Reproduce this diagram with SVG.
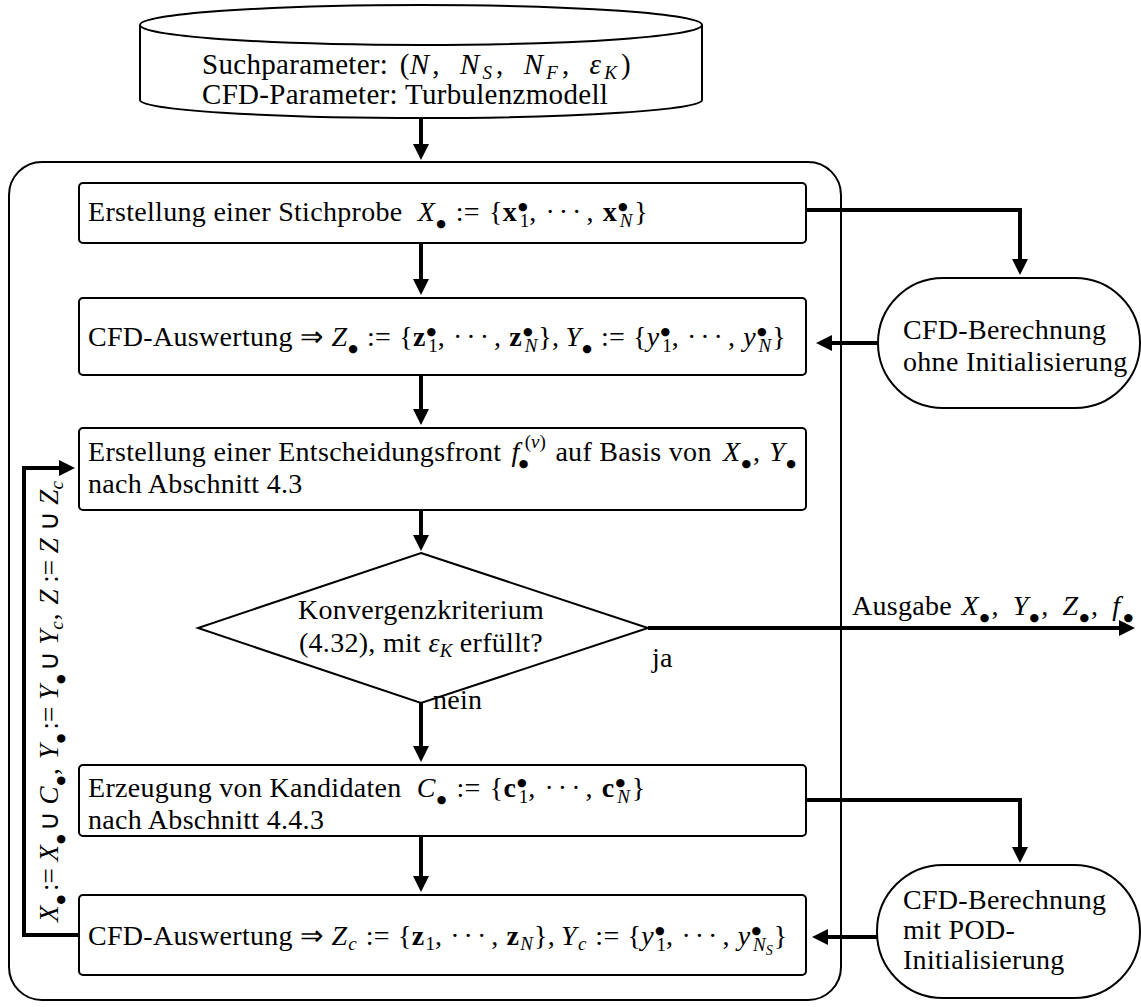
<svg xmlns="http://www.w3.org/2000/svg" width="1141" height="1007" viewBox="0 0 1141 1007">
<style>
text{font-family:"Liberation Serif","Times New Roman",serif;font-size:28px;letter-spacing:0.3px;fill:#000}
.i{font-style:italic}
.b{font-weight:bold}
.s{font-size:19px;letter-spacing:0}
.bl{font-family:"DejaVu Sans",sans-serif;font-size:11px;letter-spacing:0}
.dots{letter-spacing:4px}
.cyl{font-size:29px}
.rot{font-size:27px;letter-spacing:0}
.box{fill:#fff;stroke:#000;stroke-width:2}
.con{fill:none;stroke:#000;stroke-width:4;marker-end:url(#ah)}
</style>
<defs>
<marker id="ah" markerUnits="userSpaceOnUse" markerWidth="18" markerHeight="18" refX="6" refY="8" orient="auto">
<path d="M0,0 L16,8 L0,16 z" fill="#000"/>
</marker>
</defs>
<rect id="frame" x="9" y="162" width="832" height="838" rx="33" fill="none" stroke="#000" stroke-width="2"/>
<g id="input">
<path d="M140,25 V100 A281,18 0 0 0 702,100 V25" class="box"/>
<ellipse cx="421" cy="25" rx="281" ry="20" class="box"/>
<text x="202" y="74" class="cyl">Suchparameter: <tspan dx="4">(</tspan><tspan class="i">N</tspan><tspan dx="3">,</tspan><tspan dx="20" class="i">N</tspan><tspan class="s i" dx="3" dy="5">S</tspan><tspan dx="4" dy="-5">,</tspan><tspan dx="20" class="i">N</tspan><tspan class="s i" dx="3" dy="5">F</tspan><tspan dx="4" dy="-5">,</tspan><tspan dx="20" class="i">ε</tspan><tspan class="s i" dx="3" dy="5">K</tspan><tspan dx="4" dy="-5">)</tspan></text>
<text x="202" y="104" class="cyl">CFD-Parameter: Turbulenzmodell</text>
</g>
<g id="box1">
<rect x="79" y="183" width="727" height="60" rx="4" class="box"/>
<text x="88" y="221">Erstellung einer Stichprobe <tspan dx="8" class="i">X</tspan><tspan class="bl" dx="1" dy="6">●</tspan><tspan dx="10" dy="-6">:=</tspan><tspan dx="9">{</tspan><tspan class="b">x</tspan><tspan class="bl" dx="1" dy="-11">●</tspan><tspan class="s" dx="-8" dy="17">1</tspan><tspan dy="-6">,</tspan><tspan dx="9" class="dots">···</tspan><tspan dx="1">,</tspan><tspan dx="9" class="b">x</tspan><tspan class="bl" dx="1" dy="-11">●</tspan><tspan class="s i" dx="-8" dy="17">N</tspan><tspan dx="2" dy="-6">}</tspan></text>
</g>
<g id="box2">
<rect x="79" y="298" width="727" height="77" rx="4" class="box"/>
<text x="88" y="346">CFD-Auswertung ⇒<tspan dx="8" class="i">Z</tspan><tspan class="bl" dx="1" dy="6">●</tspan><tspan dx="9" dy="-6">:=</tspan><tspan dx="8">{</tspan><tspan class="b">z</tspan><tspan class="bl" dx="1" dy="-11">●</tspan><tspan class="s" dx="-8" dy="17">1</tspan><tspan dy="-6">,</tspan><tspan dx="8" class="dots">···</tspan><tspan dx="1">,</tspan><tspan dx="8" class="b">z</tspan><tspan class="bl" dx="1" dy="-11">●</tspan><tspan class="s i" dx="-8" dy="17">N</tspan><tspan dx="1" dy="-6">},</tspan><tspan dx="6" class="i">Y</tspan><tspan class="bl" dx="1" dy="6">●</tspan><tspan dx="9" dy="-6">:=</tspan><tspan dx="8">{</tspan><tspan class="i">y</tspan><tspan class="bl" dx="1" dy="-11">●</tspan><tspan class="s" dx="-8" dy="17">1</tspan><tspan dy="-6">,</tspan><tspan dx="8" class="dots">···</tspan><tspan dx="1">,</tspan><tspan dx="8" class="i">y</tspan><tspan class="bl" dx="1" dy="-11">●</tspan><tspan class="s i" dx="-8" dy="17">N</tspan><tspan dx="1" dy="-6">}</tspan></text>
</g>
<g id="box3">
<rect x="79" y="428" width="727" height="82" rx="4" class="box"/>
<text x="88" y="461">Erstellung einer Entscheidungsfront <tspan dx="3" class="i">f</tspan><tspan class="s" dx="5" dy="-13">(</tspan><tspan class="s i">ν</tspan><tspan class="s">)</tspan><tspan class="bl" dx="-27" dy="19">●</tspan><tspan dx="27" dy="-6">auf Basis von </tspan><tspan dx="4" class="i">X</tspan><tspan class="bl" dx="1" dy="6">●</tspan><tspan dx="2" dy="-6">,</tspan><tspan dx="9" class="i">Y</tspan><tspan class="bl" dx="1" dy="6">●</tspan></text>
<text x="88" y="493">nach Abschnitt 4.3</text>
</g>
<g id="decision">
<polygon points="421,553 648,628 421,703 198,628" class="box"/>
<text x="421" y="619" text-anchor="middle">Konvergenzkriterium</text>
<text x="421" y="652" text-anchor="middle">(4.32), mit <tspan class="i">ε</tspan><tspan class="s i" dy="5">K</tspan><tspan dy="-5"> erfüllt?</tspan></text>
</g>
<g id="box4">
<rect x="79" y="765" width="727" height="71" rx="4" class="box"/>
<text x="88" y="797">Erzeugung von Kandidaten <tspan dx="8" class="i">C</tspan><tspan class="bl" dx="1" dy="6">●</tspan><tspan dx="10" dy="-6">:=</tspan><tspan dx="9">{</tspan><tspan class="b">c</tspan><tspan class="bl" dx="1" dy="-11">●</tspan><tspan class="s" dx="-8" dy="17">1</tspan><tspan dy="-6">,</tspan><tspan dx="9" class="dots">···</tspan><tspan dx="1">,</tspan><tspan dx="9" class="b">c</tspan><tspan class="bl" dx="1" dy="-11">●</tspan><tspan class="s i" dx="-8" dy="17">N</tspan><tspan dx="2" dy="-6">}</tspan></text>
<text x="88" y="829">nach Abschnitt 4.4.3</text>
</g>
<g id="box5">
<rect x="79" y="895" width="727" height="80" rx="4" class="box"/>
<text x="88" y="945">CFD-Auswertung ⇒<tspan dx="8" class="i">Z</tspan><tspan class="s i" dx="1" dy="5">c</tspan><tspan dx="9" dy="-5">:=</tspan><tspan dx="8">{</tspan><tspan class="b">z</tspan><tspan class="s" dx="1" dy="5">1</tspan><tspan dy="-5">,</tspan><tspan dx="8" class="dots">···</tspan><tspan dx="1">,</tspan><tspan dx="8" class="b">z</tspan><tspan class="s i" dx="1" dy="5">N</tspan><tspan dx="1" dy="-5">},</tspan><tspan dx="6" class="i">Y</tspan><tspan class="s i" dx="1" dy="5">c</tspan><tspan dx="9" dy="-5">:=</tspan><tspan dx="8">{</tspan><tspan class="i">y</tspan><tspan class="bl" dx="1" dy="-11">●</tspan><tspan class="s" dx="-8" dy="17">1</tspan><tspan dy="-6">,</tspan><tspan dx="8" class="dots">···</tspan><tspan dx="1">,</tspan><tspan dx="8" class="i">y</tspan><tspan class="bl" dx="1" dy="-11">●</tspan><tspan class="s i" dx="-8" dy="17">N</tspan><tspan class="s i" style="font-size:14px" dy="4">S</tspan><tspan dx="1" dy="-10">}</tspan></text>
</g>
<g id="calc1">
<rect x="878" y="278" width="262" height="130" rx="65" class="box"/>
<text x="903" y="339">CFD-Berechnung</text>
<text x="903" y="371">ohne Initialisierung</text>
</g>
<g id="calc2">
<rect x="877" y="865" width="263" height="133" rx="66" class="box"/>
<text x="903" y="909">CFD-Berechnung</text>
<text x="903" y="939">mit POD-</text>
<text x="903" y="969">Initialisierung</text>
</g>
<g id="connectors">
<path d="M421,119 V150" class="con"/>
<path d="M421,243 V285" class="con"/>
<path d="M421,375 V415" class="con"/>
<path d="M421,510 V541" class="con"/>
<path d="M421,703 V752" class="con"/>
<path d="M421,836 V882" class="con"/>
<path d="M806,210 H1020 V265" class="con"/>
<path d="M878,343 H826" class="con"/>
<path d="M806,800 H1020 V853" class="con"/>
<path d="M877,937 H822" class="con"/>
<path d="M648,628 H1125" class="con"/>
<path d="M79,935 H24 V468 H65" class="con"/>
<text x="852" y="615">Ausgabe <tspan dx="2" class="i">X</tspan><tspan class="bl" dx="1" dy="6">●</tspan><tspan dx="2" dy="-6">,</tspan><tspan dx="14" class="i">Y</tspan><tspan class="bl" dx="1" dy="6">●</tspan><tspan dx="2" dy="-6">,</tspan><tspan dx="14" class="i">Z</tspan><tspan class="bl" dx="1" dy="6">●</tspan><tspan dx="2" dy="-6">,</tspan><tspan dx="14" class="i">f</tspan><tspan class="bl" dx="3" dy="6">●</tspan></text>
<text x="652" y="667">ja</text>
<text x="433" y="709">nein</text>
<text class="rot" transform="translate(58,922) rotate(-90)"><tspan class="i">X</tspan><tspan class="bl" dx="1" dy="6">●</tspan><tspan dx="4" dy="-6">:= </tspan><tspan class="i">X</tspan><tspan class="bl" dx="1" dy="6">●</tspan><tspan dx="3" dy="-6">∪ </tspan><tspan class="i">C</tspan><tspan class="bl" dx="1" dy="6">●</tspan><tspan dx="1" dy="-6">,</tspan><tspan dx="9" class="i">Y</tspan><tspan class="bl" dx="1" dy="6">●</tspan><tspan dx="4" dy="-6">:= </tspan><tspan class="i">Y</tspan><tspan class="bl" dx="1" dy="6">●</tspan><tspan dx="3" dy="-6">∪ </tspan><tspan class="i">Y</tspan><tspan class="s i" dy="5">c</tspan><tspan dx="1" dy="-5">,</tspan><tspan dx="9" class="i">Z</tspan><tspan> := </tspan><tspan class="i">Z</tspan><tspan> ∪ </tspan><tspan class="i">Z</tspan><tspan class="s i" dy="5">c</tspan></text>
</g>
</svg>
